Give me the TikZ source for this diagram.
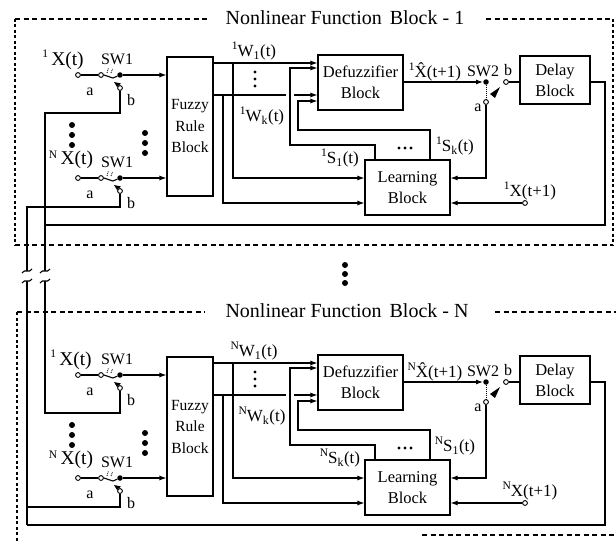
\documentclass[tikz,border=0pt]{standalone}
\usepackage{fontspec}
\setmainfont{Liberation Serif}
\usetikzlibrary{arrows.meta}
\newcommand{\fsz}[2]{\fontsize{#1}{#2}\selectfont}
\newcommand{\sups}[1]{\raisebox{0.42em}{\fsz{11.5}{11.5}#1}}
\tikzset{
  ln/.style={line width=1.1pt},
  arr/.style={line width=1.1pt,-{Latex[length=7pt,width=5pt]}},
  blk/.style={draw,line width=1.1pt,align=center,inner sep=0pt,font=\fsz{16.5}{21}},
  term/.style={circle,draw,fill=white,line width=0.9pt,inner sep=0pt,minimum size=4.8pt},
  jdot/.style={circle,fill=black,inner sep=0pt,minimum size=5.5pt},
  bigdot/.style={circle,fill=black,inner sep=0pt,minimum size=6pt},
  smdot/.style={circle,fill=black,inner sep=0pt,minimum size=3.4pt},
  lbl/.style={inner sep=0pt,font=\fsz{16}{18}},
  slbl/.style={inner sep=0pt,font=\fsz{17}{19}},
  xlbl/.style={inner sep=0pt,font=\fsz{19.5}{21}},
  ttl/.style={inner sep=0pt,font=\fsz{20}{22}},
  frameline/.style={line width=1.5pt,dash pattern=on 5pt off 3.5pt},
  frameside/.style={line width=2.2pt,dash pattern=on 3pt off 2.5pt},
}
% switch SW1: #1 id, #2 y
\newcommand{\swone}[2]{%
  \node[term] (ia#1) at (78,#2) {};
  \node[term] (ca#1) at (101,#2) {};
  \node[jdot] (da#1) at (120,#2) {};
  \node[term] (cb#1) at (120,#2+13) {};
  \draw[ln] (ia#1) -- (ca#1);
  \draw[ln] (ca#1.east) -- (113,#2+3) -- (da#1);
  \draw[densely dotted,line width=0.9pt] (107,#2-2) -- (108.5,#2-7);
  \draw[densely dotted,line width=0.9pt] (111,#2-2) -- (112.5,#2-6);
  \fill (114,#2+7) -- (121,#2+8.5) -- (117,#2+12) -- cycle;
}
% function block: #1 id, #2 yshift, #3 sup, #4 left S sub, #5 right S sub, #6 x of feedback end, #7 x of first input label
\newcommand{\fblock}[7]{%
\begin{scope}[shift={(0,#2)}]
  \node[blk,minimum width=46pt,minimum height=139pt,font=\fsz{15.5}{21.5}] (fr#1) at (190,126.5) {Fuzzy\\Rule\\Block};
  \node[blk,minimum width=85pt,minimum height=55pt] (df#1) at (360.5,82.5) {Defuzzifier\\Block};
  \node[blk,minimum width=85pt,minimum height=55pt] (lb#1) at (407.5,187.5) {Learning\\Block};
  \node[blk,minimum width=70pt,minimum height=48pt] (dl#1) at (555,80) {Delay\\Block};
  \swone{a#1}{75}
  \swone{b#1}{178}
  \coordinate (yWa#1) at (0,63);
  \coordinate (ySa#1) at (0,68);
  \coordinate (yWk#1) at (0,95);
  \coordinate (ySk#1) at (0,101);
  \coordinate (yLa#1) at (0,178);
  \coordinate (yLb#1) at (0,203);
  \coordinate (xsa#1) at (375,0);
  \coordinate (xsb#1) at (430,0);
  % inputs to fuzzy rule block
  \draw[arr] (daa#1) -- (fr#1.west |- daa#1);
  \draw[arr] (dab#1) -- (fr#1.west |- dab#1);
  % fuzzy outputs
  \draw[arr] (fr#1.east |- yWa#1) -- (df#1.west |- yWa#1);
  \draw[arr] (233,63) |- (lb#1.west |- yLa#1);
  \draw[ln] (fr#1.east |- yWk#1) -- (286,95);
  \draw[arr] (294,95) -- (df#1.west |- yWk#1);
  \draw[arr] (223,95) |- (lb#1.west |- yLb#1);
  % feedback from learning block
  \draw[arr] (lb#1.north -| xsa#1) -- (375,145) -- (290,145) |- (df#1.west |- ySa#1);
  \draw[arr] (lb#1.north -| xsb#1) -- (430,130) -- (298,130) |- (df#1.west |- ySk#1);
  % SW2
  \node[jdot] (sw#1) at (486,82) {};
  \node[term] (sa#1) at (486,102) {};
  \node[term] (sb#1) at (506,82) {};
  \draw[arr] (df#1.east |- sw#1) -- (sw#1.west);
  \draw[densely dotted,line width=1pt] (sw#1.south) -- (sa#1.north);
  \fill (500,87) -- (490,94) -- (495,98) -- cycle;
  \draw[ln] (sb#1) -- (dl#1.west |- sb#1);
  \draw[arr] (sa#1) |- (lb#1.east |- yLa#1);
  \node[term] (xo#1) at (525,203) {};
  \draw[arr] (xo#1) -- (lb#1.east |- xo#1);
  \draw[ln] (dl#1.east |- sb#1) -- (605,82) -- (605,225) -- (#6,225);
  % labels
  \node[xlbl] (lxa#1) at (#7,60) {\sups{1}\,X(t)};
  \node[lbl] (lsa#1) at (117,59) {SW1};
  \node[lbl] (laa#1) at (90,92) {a};
  \node[lbl] (lba#1) at (131,100) {b};
  \node[xlbl] (lxb#1) at (71,160) {\raisebox{0.3em}{\fsz{11.5}{11.5}N}\,X(t)};
  \node[lbl] (lsb#1) at (117,162) {SW1};
  \node[lbl] (lab#1) at (90,195) {a};
  \node[lbl] (lbb#1) at (131,203) {b};
  \node[slbl] (lw1#1) at (254,51) {\sups{#3}W\textsubscript{1}(t)};
  \node[slbl] (lwk#1) at (262,116) {\sups{#3}W\textsubscript{k}(t)};
  \node[slbl] (lxh#1) at (435,72) {\sups{#3}\^{X}(t+1)};
  \node[lbl] (lsw#1) at (483,71) {SW2};
  \node[lbl] (lsbb#1) at (508,70) {b};
  \node[lbl] (lsaa#1) at (478,108) {a};
  \node[slbl] (lsl#1) at (340,158) {\sups{#3}S\textsubscript{#4}(t)};
  \node[slbl] (lsr#1) at (455,146) {\sups{#3}S\textsubscript{#5}(t)};
  \node[slbl] (lxo#1) at (530,191) {\sups{#3}X(t+1)};
  % dots
  \foreach \k/\yy in {1/72,2/79,3/86} \node[smdot] (vd\k#1) at (255,\yy) {};
  \foreach \k/\xx in {1/399,2/405,3/411} \node[smdot] (hd\k#1) at (\xx,148) {};
  \foreach \k/\yy in {1/125,2/135,3/145} \node[bigdot] (ld\k#1) at (72,\yy) {};
  \foreach \k/\yy in {1/133,2/143,3/153} \node[bigdot] (rd\k#1) at (145,\yy) {};
\end{scope}}
\begin{document}
\begin{tikzpicture}[x=1pt,y=-1pt]
\useasboundingbox (0,0) rectangle (616,543);
% frames
\node[ttl] (t1) at (345,18) {Nonlinear\hspace{5pt}Function\hspace{8pt}Block - 1};
\draw[frameline] (15,19) -- (208,19);
\draw[frameline] (486,19) -- (613,19);
\draw[frameside] (15,19) -- (15,245);
\draw[frameside] (613,19) -- (613,245);
\draw[frameline] (15,245) -- (613,245);
\node[ttl] (t2) at (347,311) {Nonlinear\hspace{5pt}Function\hspace{8pt}Block - N};
\draw[frameline] (17,312) -- (205,312);
\draw[frameline] (495,312) -- (616,312);
\draw[frameside] (17,312) -- (17,543);
\draw[frameline] (422,535) -- (616,535);
% middle dots
\node[bigdot] (m1) at (345,265) {};
\node[bigdot] (m2) at (345,274) {};
\node[bigdot] (m3) at (345,283) {};
% blocks
\fblock{A}{0}{1}{1}{k}{45}{63}
\fblock{B}{300}{N}{k}{1}{27}{71}
% cross lines
\coordinate (u1) at (45,271);
\coordinate (u2) at (27,271);
\coordinate (l1) at (45,281);
\coordinate (l2) at (27,281);
\draw[ln] (cbaA) -- (120,113) -- (45,113) -- (u1);
\draw[ln] (cbbA) -- (120,207) -- (27,207) -- (u2);
\draw[ln] (l1) -- (45,413) -- (120,413) -- (cbaB);
\draw[ln] (l2) -- (27,525);
\draw[ln] (27,507) -- (120,507) -- (cbbB);
\foreach \xx in {27,45} {
  \draw[ln] (\xx-5,273) .. controls (\xx-2,268) and (\xx+2,274) .. (\xx+5,269);
  \draw[ln] (\xx-5,283) .. controls (\xx-2,278) and (\xx+2,284) .. (\xx+5,279);
}
\end{tikzpicture}
\end{document}
